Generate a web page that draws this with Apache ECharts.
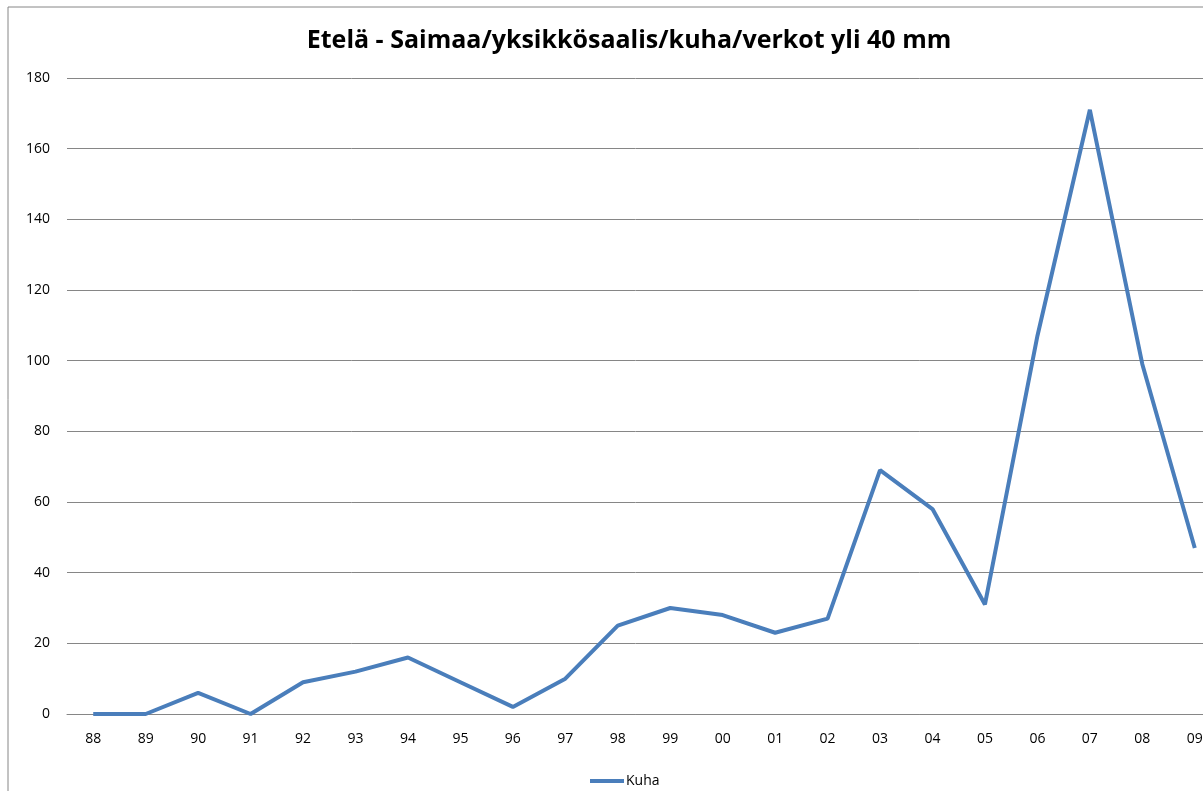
<!DOCTYPE html>
<html>
<head>
<meta charset="utf-8">
<script src="https://cdn.jsdelivr.net/npm/echarts@6/dist/echarts.min.js"></script>
<style>
  html, body { margin: 0; padding: 0; background: #fff; }
  #chart { width: 1203px; height: 791px; }
</style>
</head>
<body>
<div id="chart"></div>
<script>
// vuodet 1988-2009
const years = ['88', '89', '90', '91', '92', '93', '94', '95', '96', '97', '98',
  '99', '00', '01', '02', '03', '04', '05', '06', '07', '08', '09']
const kuha = [0, 0, 6, 0, 9, 12, 16, 9, 2, 10, 25, 30, 28, 23, 27, 69, 58, 31, 107, 171, 99, 47]

const chart = echarts.init(document.getElementById('chart'))
chart.setOption({
  animation: false,
  textStyle: { fontFamily: '"Open Sans", sans-serif' },
  title: {
    text: 'Etelä - Saimaa/yksikkösaalis/kuha/verkot yli 40 mm',
    left: 624,
    textAlign: 'center',
    top: 23,
    textStyle: { fontSize: 25, fontWeight: 'bold', color: '#000' }
  },
  graphic: [{
    type: 'rect',
    shape: { x: 8, y: 7, width: 1300, height: 900 },
    style: { fill: 'none', stroke: '#868686', lineWidth: 1 },
    silent: true
  }],
  legend: {
    top: 774,
    left: 590,
    padding: 0,
    itemWidth: 34,
    itemHeight: 4,
    itemGap: 2,
    icon: 'rect',
    data: ['Kuha'],
    textStyle: { fontSize: 14, color: '#000', padding: [0, 0, 0, -3] }
  },
  grid: {
    left: 67,
    top: 78,
    width: 1154,
    height: 636,
    outerBoundsMode: 'none'
  },
  xAxis: {
    type: 'category',
    data: years,
    boundaryGap: true,
    axisTick: { show: false },
    axisLine: { lineStyle: { color: '#868686', width: 1 } },
    axisLabel: { fontSize: 14, color: '#000', margin: 18 }
  },
  yAxis: {
    type: 'value',
    min: 0,
    max: 180,
    interval: 20,
    axisLine: { show: false },
    axisTick: { show: false },
    axisLabel: { fontSize: 14, color: '#000', margin: 17 },
    splitLine: { lineStyle: { color: '#868686', width: 1 } }
  },
  series: [{
    name: 'Kuha',
    type: 'line',
    data: kuha,
    symbol: 'none',
    itemStyle: { color: '#4A7EBB' },
    lineStyle: { color: '#4A7EBB', width: 4 }
  }]
})
</script>
</body>
</html>
